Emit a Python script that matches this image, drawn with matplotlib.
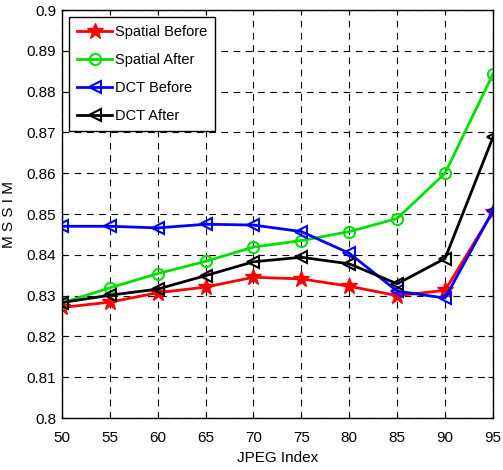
import matplotlib

matplotlib.use("Agg")
import matplotlib.pyplot as plt

plt.rcParams["font.family"] = ["Liberation Sans", "DejaVu Sans"]

jpeg_index = [50, 55, 60, 65, 70, 75, 80, 85, 90, 95]
spatial_before = [0.8271, 0.8284, 0.8307, 0.8321, 0.8345, 0.8341, 0.8323, 0.8300, 0.8313, 0.8505]
spatial_after = [0.8282, 0.8319, 0.8354, 0.8384, 0.8419, 0.8435, 0.8457, 0.8489, 0.8600, 0.8843]
dct_before = [0.8470, 0.8470, 0.8466, 0.8475, 0.8473, 0.8457, 0.8404, 0.8311, 0.8294, 0.8508]
dct_after = [0.8283, 0.8301, 0.8316, 0.8349, 0.8383, 0.8394, 0.8378, 0.8329, 0.8391, 0.8688]

fig = plt.figure(figsize=(5.03, 4.70), dpi=100)
ax = fig.add_axes([0.123, 0.1106, 0.857, 0.868])

ax.plot(jpeg_index, spatial_before, color="red", lw=2, marker="*", ms=12,
        label="Spatial Before")
ax.plot(jpeg_index, spatial_after, color="#00e000", lw=2, marker="o", ms=8,
        mfc="none", mew=1.5, label="Spatial After")
ax.plot(jpeg_index, dct_before, color="blue", lw=2, marker="<", ms=9,
        mfc="none", mew=1.5, label="DCT Before")
ax.plot(jpeg_index, dct_after, color="black", lw=2, marker="<", ms=9,
        mfc="none", mew=1.5, label="DCT After")

ax.set_xlim(50, 95)
ax.set_ylim(0.8, 0.9)
ax.set_xticks(jpeg_index)
ax.set_yticks([0.8 + 0.01 * i for i in range(11)])
ax.set_yticklabels(["0.8", "0.81", "0.82", "0.83", "0.84", "0.85", "0.86",
                    "0.87", "0.88", "0.89", "0.9"])
ax.tick_params(direction="in", labelsize=11, top=True, right=True, pad=4)
ax.tick_params(axis="x", pad=9)
ax.grid(True, color="black", ls=(0, (6, 5)), lw=0.8)
for s in ax.spines.values():
    s.set_linewidth(1.0)

ax.set_xlabel("JPEG Index", fontsize=11, labelpad=5)
ax.set_ylabel("M S S I M", fontsize=11, labelpad=8)

leg = ax.legend(loc="upper left", fontsize=10.5, fancybox=False, framealpha=1,
                edgecolor="black", borderaxespad=0.5, handlelength=2.4,
                labelspacing=0.95, handletextpad=0.2, borderpad=0.55)
leg.get_frame().set_linewidth(1.0)

fig.savefig("out.png", dpi=100)
